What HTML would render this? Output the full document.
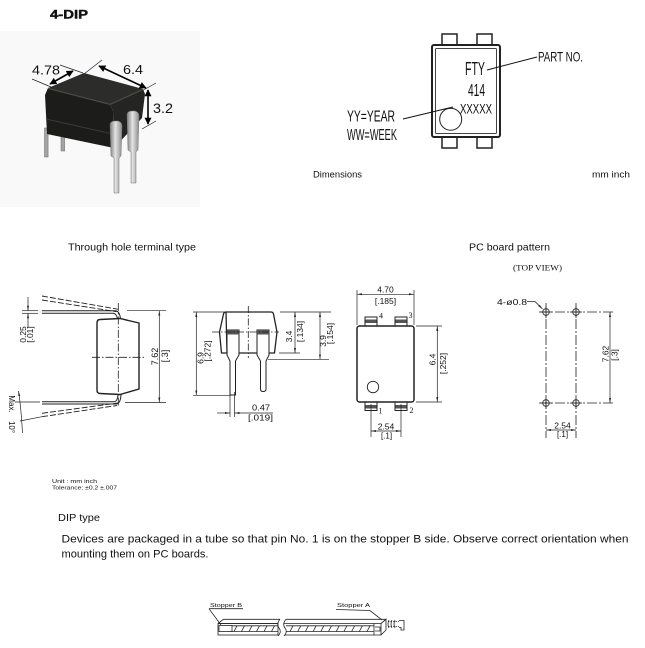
<!DOCTYPE html>
<html><head><meta charset="utf-8">
<style>
html,body{margin:0;padding:0;background:#fff;}
svg{display:block;}
text{font-family:"Liberation Sans",Arial,sans-serif;fill:#111;}
.ser{font-family:"Liberation Serif","Times New Roman",serif;}
</style></head><body>
<svg width="645" height="648" viewBox="0 0 645 648" xmlns="http://www.w3.org/2000/svg">
<defs>
<marker id="big" viewBox="0 0 10 10" refX="9" refY="5" markerUnits="userSpaceOnUse" markerWidth="8" markerHeight="7" orient="auto-start-reverse"><path d="M0,0 L10,5 L0,10 z" fill="#000"/></marker>
<marker id="sm" viewBox="0 0 10 4" refX="10" refY="2" markerUnits="userSpaceOnUse" markerWidth="5" markerHeight="2.2" orient="auto-start-reverse"><path d="M0,0 L10,2 L0,4 z" fill="#222"/></marker>
<linearGradient id="pin" x1="0" y1="0" x2="1" y2="0">
<stop offset="0" stop-color="#7e7e7e"/><stop offset="0.45" stop-color="#e4e4e4"/><stop offset="1" stop-color="#8c8c8c"/>
</linearGradient>
</defs>

<!-- Title -->
<text x="50" y="18.5" font-size="12" font-weight="bold" textLength="38" lengthAdjust="spacingAndGlyphs" stroke="#111" stroke-width="0.4">4-DIP</text>

<!-- Photo area -->
<rect x="0" y="31" width="200" height="176" fill="#f9f9f9"/>
<!-- back pins -->
<rect x="44.5" y="128" width="3.6" height="29" fill="#a4a4a4" stroke="#6a6a6a" stroke-width="0.5"/>
<rect x="61" y="134" width="3.6" height="17" fill="#a4a4a4" stroke="#6a6a6a" stroke-width="0.5"/>
<!-- body -->
<path d="M45,95 L48,88 L110,104 L113,111 L114,148 L47,134 Z" fill="#1c1c1a"/>
<path d="M48,88 L84,73 L143,89 L110,104 Z" fill="#2c2c2a"/>
<path d="M110,104 L143,89 L145,94 L142,118 L114,148 L113,111 Z" fill="#242422"/>
<line x1="48" y1="88.5" x2="110" y2="104.5" stroke="#4a4a47" stroke-width="1"/>
<line x1="110" y1="104.5" x2="143" y2="89.5" stroke="#4a4a47" stroke-width="1"/>
<line x1="46" y1="119" x2="113" y2="134" stroke="#3a3a37" stroke-width="1"/>
<!-- front pins -->
<path d="M110,125 Q110,121 115,121 L118,121 Q122,122 122,126 L121,156 L119,158 L119,193 L114,193 L114,158 L111,156 Z" fill="url(#pin)" stroke="#777" stroke-width="0.5"/>
<path d="M127,115 Q127,111 132,111 L135,111 Q139,112 139,116 L138,150 L136,152 L136,183 L131,183 L131,152 L128,150 Z" fill="url(#pin)" stroke="#777" stroke-width="0.5"/>
<!-- photo dims -->
<g stroke="#222" stroke-width="0.7">
<line x1="32" y1="79" x2="51" y2="87"/>
<line x1="60" y1="65" x2="83" y2="73"/>
<line x1="84" y1="74" x2="102" y2="60"/>
<line x1="140" y1="92" x2="156" y2="83"/>
<line x1="142" y1="129" x2="156" y2="121"/>
</g>
<g stroke="#000" stroke-width="1.6">
<line x1="50" y1="84" x2="73" y2="71" marker-start="url(#big)" marker-end="url(#big)"/>
<line x1="99" y1="66" x2="146" y2="88" marker-start="url(#big)" marker-end="url(#big)"/>
<line x1="148" y1="90" x2="148" y2="124" marker-start="url(#big)" marker-end="url(#big)"/>
</g>
<text x="32" y="74.5" font-size="13" textLength="28" lengthAdjust="spacingAndGlyphs">4.78</text>
<text x="123" y="74" font-size="13" textLength="20" lengthAdjust="spacingAndGlyphs">6.4</text>
<text x="153" y="113" font-size="13.5" textLength="20" lengthAdjust="spacingAndGlyphs">3.2</text>

<!-- Marking diagram -->
<g stroke="#222" fill="#fff">
<rect x="442" y="34" width="15" height="11" stroke-width="1.5"/>
<rect x="477" y="34" width="15" height="11" stroke-width="1.5"/>
<rect x="442" y="137" width="15" height="11" stroke-width="1.5"/>
<rect x="477" y="137" width="15" height="11" stroke-width="1.5"/>
<rect x="432" y="45" width="68" height="92" rx="2" stroke-width="2"/>
<rect x="435.5" y="48.5" width="61" height="85" rx="1" stroke-width="1" stroke="#444"/>
<circle cx="450.7" cy="119.3" r="11" stroke-width="1"/>
</g>
<text x="465" y="75" font-size="18" textLength="20" lengthAdjust="spacingAndGlyphs">FTY</text>
<text x="468" y="96" font-size="17.5" textLength="17" lengthAdjust="spacingAndGlyphs">414</text>
<text x="460" y="113.3" font-size="14" textLength="32" lengthAdjust="spacingAndGlyphs">XXXXX</text>
<text x="538" y="61.7" font-size="14" textLength="45" lengthAdjust="spacingAndGlyphs">PART NO.</text>
<text x="347" y="121.7" font-size="16" textLength="48" lengthAdjust="spacingAndGlyphs">YY=YEAR</text>
<text x="347" y="140" font-size="16" textLength="50" lengthAdjust="spacingAndGlyphs">WW=WEEK</text>
<line x1="487" y1="70" x2="537" y2="57" stroke="#111" stroke-width="1"/>
<line x1="403" y1="119" x2="453" y2="107" stroke="#111" stroke-width="1"/>
<text x="313" y="177.3" font-size="9" textLength="49" lengthAdjust="spacingAndGlyphs">Dimensions</text>
<text x="592" y="177.3" font-size="9" textLength="38" lengthAdjust="spacingAndGlyphs">mm inch</text>

<!-- Section titles -->
<text x="68" y="250.5" font-size="10" textLength="128" lengthAdjust="spacingAndGlyphs">Through hole terminal type</text>
<text x="469" y="250.5" font-size="10" textLength="81" lengthAdjust="spacingAndGlyphs">PC board pattern</text>
<text class="ser" x="513" y="270.5" font-size="8.5" textLength="49" lengthAdjust="spacingAndGlyphs">(TOP VIEW)</text>

<!-- Through hole side view -->
<g stroke="#222" fill="none" stroke-width="1">
<path d="M100,319.5 L120,318.5 L139,323 L139,389 L120,394.5 L100,393.5 Q97,393.5 97,390 L97,323 Q97,319.5 100,319.5 Z" stroke-width="1.4"/>
<path d="M42,310.7 L115,310.7 Q119.5,310.7 120.5,318.5"/>
<path d="M42,313.3 L113,313.3 Q116.5,313.3 117.5,318.8"/>
<path d="M42,404 L116,404 Q120.5,404 121,394.5"/>
<path d="M42,401.7 L114,401.7 Q117.5,401.7 118,394.5"/>
<g stroke-dasharray="6,2" stroke-width="0.9">
<path d="M42,296 L118.3,309.3"/>
<path d="M42,300 L116.7,311.7"/>
<path d="M42,413.3 L118,403"/>
<path d="M42,416.7 L117,405.5"/>
</g>
<g stroke-dasharray="8,2,1.5,2" stroke-width="0.8">
<line x1="118.3" y1="303" x2="118.3" y2="406"/>
<line x1="92" y1="357.3" x2="146" y2="357.3"/>
</g>
<g stroke-width="0.7">
<line x1="127" y1="310.7" x2="166" y2="310.7"/>
<line x1="125" y1="402.5" x2="166" y2="402.5"/>
<line x1="159.3" y1="310.7" x2="159.3" y2="402.5" marker-start="url(#sm)" marker-end="url(#sm)"/>
<line x1="22" y1="310.7" x2="38" y2="310.7"/>
<line x1="22" y1="313.3" x2="38" y2="313.3"/>
<line x1="28" y1="297" x2="28" y2="310.7" marker-end="url(#sm)"/>
<line x1="28" y1="327" x2="28" y2="313.3" marker-end="url(#sm)"/>
<line x1="15" y1="402" x2="40" y2="402"/>
<line x1="20" y1="421" x2="42" y2="416.7"/>
<path d="M18.5,391 Q21,407 22.5,433" marker-start="url(#sm)"/>
</g>
</g>
<text font-size="9" transform="translate(158,356.5) rotate(-90)" text-anchor="middle">7.62</text>
<text font-size="9" transform="translate(168,356) rotate(-90)" text-anchor="middle">[.3]</text>
<text font-size="8.5" transform="translate(26,334.5) rotate(-90)" text-anchor="middle">0.25</text>
<text font-size="8.5" transform="translate(33,334.5) rotate(-90)" text-anchor="middle">[.01]</text>
<text font-size="8" transform="translate(9,404) rotate(90)" text-anchor="middle">Max.</text>
<text font-size="8" transform="translate(9,427) rotate(90)" text-anchor="middle">10°</text>

<!-- Through hole front view -->
<g stroke="#222" fill="none" stroke-width="1">
<path d="M226,312 L271,312 Q273,312 273.5,314 L277,332 L274.5,353 L269,353 M239,353 L257,353 M227,353 L221.5,353 L219.5,332 L223.5,314 Q224,312 226,312 Z" stroke-width="1.3"/>
<path d="M227,330 L239,330 L239,355 L235.5,361 L235.5,395 L230,395 L230,361 L227,355 Z"/>
<path d="M257,330 L269,330 L269,355 L266,361 L266,389 Q266,391.5 263,391.5 Q260.5,391.5 260.5,389 L260.5,361 L257,355 Z"/>
<rect x="227" y="330" width="12" height="4.5" fill="#555" stroke="none"/>
<rect x="257" y="330" width="12" height="4.5" fill="#555" stroke="none"/>
<g stroke-dasharray="7,2,1.5,2" stroke-width="0.8">
<line x1="248.3" y1="306" x2="248.3" y2="358"/>
<line x1="212" y1="332" x2="279" y2="332"/>
</g>
<g stroke-width="0.7">
<line x1="193" y1="312" x2="225" y2="312"/>
<line x1="193" y1="395.3" x2="231" y2="395.3"/>
<line x1="196.3" y1="312" x2="196.3" y2="395.3" marker-start="url(#sm)" marker-end="url(#sm)"/>
<line x1="280" y1="312" x2="331" y2="312"/>
<line x1="279" y1="353" x2="300" y2="353"/>
<line x1="268" y1="359.3" x2="329" y2="359.3"/>
<line x1="295" y1="312" x2="295" y2="353" marker-start="url(#sm)" marker-end="url(#sm)"/>
<line x1="320" y1="312" x2="320" y2="359.3" marker-start="url(#sm)" marker-end="url(#sm)"/>
<line x1="230" y1="392" x2="230" y2="417"/>
<line x1="234.5" y1="392" x2="234.5" y2="417"/>
<line x1="217" y1="413" x2="230" y2="413" marker-end="url(#sm)"/>
<line x1="273" y1="413" x2="234.5" y2="413" marker-end="url(#sm)"/>
</g>
</g>
<text font-size="8.5" transform="translate(203.5,358) rotate(-90)" text-anchor="middle">6.9</text>
<text font-size="8.5" transform="translate(210.5,351) rotate(-90)" text-anchor="middle">[.272]</text>
<text font-size="8.5" transform="translate(292,336.5) rotate(-90)" text-anchor="middle">3.4</text>
<text font-size="8.5" transform="translate(303,331.5) rotate(-90)" text-anchor="middle">[.134]</text>
<text font-size="8.5" transform="translate(326,341) rotate(-90)" text-anchor="middle">3.9</text>
<text font-size="8.5" transform="translate(333,333.5) rotate(-90)" text-anchor="middle">[.154]</text>
<text x="252" y="410.5" font-size="8.5" textLength="18" lengthAdjust="spacingAndGlyphs">0.47</text>
<text x="248" y="420.5" font-size="8.5" textLength="25" lengthAdjust="spacingAndGlyphs">[.019]</text>

<!-- Top view package -->
<g stroke="#222" fill="#fff" stroke-width="1">
<rect x="365" y="317" width="12" height="9"/>
<rect x="395" y="317" width="12" height="9"/>
<rect x="365" y="402" width="12" height="8.5"/>
<rect x="395" y="402" width="12" height="8.5"/>
<rect x="357" y="326" width="57" height="76" rx="2.5" stroke-width="1.5"/>
<circle cx="373" cy="387" r="5.7" stroke-width="0.9"/>
</g>
<g fill="#555">
<rect x="365.5" y="319.5" width="11" height="3.5"/>
<rect x="395.5" y="319.5" width="11" height="3.5"/>
<rect x="365.5" y="405" width="11" height="3.5"/>
<rect x="395.5" y="405" width="11" height="3.5"/>
</g>
<text class="ser" x="379" y="318.5" font-size="8">4</text>
<text class="ser" x="408.5" y="318" font-size="8">3</text>
<text class="ser" x="378.5" y="413.5" font-size="8">1</text>
<text class="ser" x="409.5" y="413" font-size="8">2</text>
<g stroke="#222" fill="none" stroke-width="0.7">
<line x1="357" y1="290" x2="357" y2="325"/>
<line x1="414" y1="290" x2="414" y2="325"/>
<line x1="357" y1="294.3" x2="414" y2="294.3" marker-start="url(#sm)" marker-end="url(#sm)"/>
<line x1="416" y1="326" x2="442" y2="326"/>
<line x1="416" y1="402" x2="442" y2="402"/>
<line x1="437.3" y1="326" x2="437.3" y2="402" marker-start="url(#sm)" marker-end="url(#sm)"/>
<line x1="371" y1="404" x2="371" y2="437"/>
<line x1="401" y1="404" x2="401" y2="437"/>
<line x1="371" y1="431" x2="401" y2="431" marker-start="url(#sm)" marker-end="url(#sm)"/>
</g>
<text x="385.5" y="292.5" font-size="8.5" text-anchor="middle">4.70</text>
<text x="385.5" y="304" font-size="8.5" text-anchor="middle">[.185]</text>
<text font-size="8.5" transform="translate(435.5,359.5) rotate(-90)" text-anchor="middle">6.4</text>
<text font-size="8.5" transform="translate(446,363.5) rotate(-90)" text-anchor="middle">[.252]</text>
<text x="386" y="429.5" font-size="8.5" text-anchor="middle">2.54</text>
<text x="386.5" y="438.5" font-size="8" text-anchor="middle">[.1]</text>

<!-- PC board pattern -->
<g stroke="#222" fill="none" stroke-width="0.8">
<g stroke-dasharray="10,2,2,2">
<line x1="546" y1="303" x2="546" y2="438"/>
<line x1="576" y1="303" x2="576" y2="438"/>
<line x1="539" y1="312" x2="615" y2="312"/>
<line x1="539" y1="403" x2="615" y2="403"/>
</g>
<circle cx="546" cy="312" r="3.3"/>
<circle cx="576" cy="312" r="3.3"/>
<circle cx="546" cy="403" r="3.3"/>
<circle cx="576" cy="403" r="3.3"/>
<line x1="546" y1="306" x2="546" y2="318"/><line x1="540" y1="312" x2="552" y2="312"/>
<line x1="576" y1="306" x2="576" y2="318"/><line x1="570" y1="312" x2="582" y2="312"/>
<line x1="546" y1="397" x2="546" y2="409"/><line x1="540" y1="403" x2="552" y2="403"/>
<line x1="576" y1="397" x2="576" y2="409"/><line x1="570" y1="403" x2="582" y2="403"/>
<line x1="610" y1="312" x2="610" y2="403" stroke-width="0.7" marker-start="url(#sm)" marker-end="url(#sm)"/>
<line x1="546" y1="430" x2="576" y2="430" stroke-width="0.7" marker-start="url(#sm)" marker-end="url(#sm)"/>
<path d="M527,301.5 L535,301.5 L542.5,309" stroke-width="0.8" marker-end="url(#sm)"/>
</g>
<text x="497" y="305" font-size="8" textLength="30" lengthAdjust="spacingAndGlyphs">4-ø0.8</text>
<text font-size="8.5" transform="translate(608.5,354) rotate(-90)" text-anchor="middle">7.62</text>
<text font-size="8.5" transform="translate(617.5,355) rotate(-90)" text-anchor="middle">[.3]</text>
<text x="562.5" y="428.5" font-size="8.5" text-anchor="middle">2.54</text>
<text x="562.5" y="437" font-size="8" text-anchor="middle">[.1]</text>

<!-- Notes -->
<text x="52" y="483" font-size="5.5" textLength="45" lengthAdjust="spacingAndGlyphs">Unit : mm  inch</text>
<text x="52" y="489.3" font-size="5.5" textLength="65" lengthAdjust="spacingAndGlyphs">Tolerance: ±0.2  ±.007</text>
<text x="58" y="521" font-size="10" textLength="42" lengthAdjust="spacingAndGlyphs">DIP type</text>
<text x="61.5" y="542.3" font-size="11" textLength="567" lengthAdjust="spacingAndGlyphs">Devices are packaged in a tube so that pin No. 1 is on the stopper B side. Observe correct orientation when</text>
<text x="61.5" y="557.3" font-size="11" textLength="147" lengthAdjust="spacingAndGlyphs">mounting them on PC boards.</text>

<!-- Tube -->
<text x="210" y="607" font-size="5.8" textLength="32" lengthAdjust="spacingAndGlyphs">Stopper B</text>
<text x="337" y="607" font-size="5.8" textLength="33" lengthAdjust="spacingAndGlyphs">Stopper A</text>
<g stroke="#222" fill="none" stroke-width="0.8">
<path d="M209,608.7 L243,608.7"/>
<path d="M209,608.7 L221,625"/>
<path d="M336,609.5 L370,610.5 L382,620"/>
<path d="M218,623.5 L223.5,619.3 L280,619.3"/>
<path d="M218,623.5 L278,623.5"/>
<rect x="218" y="623.5" width="60" height="11.5"/>
<line x1="230" y1="625.8" x2="278" y2="625.8"/>
<line x1="230" y1="631.5" x2="278" y2="631.5"/>
<rect x="219" y="625.5" width="13" height="6" fill="#fff"/>
<path d="M234,631.5 L237,625.8 M241.5,631.5 L244.5,625.8 M249,631.5 L252,625.8 M256.5,631.5 L259.5,625.8 M264,631.5 L267,625.8 M271.5,631.5 L274.5,625.8"/>
<path d="M280,619.3 Q276,624 279,628 Q282,632 278,636"/>
<path d="M286,619.3 Q282,624 285,628 Q288,632 284,636"/>
<path d="M286,619.3 L386,619.3 L381,623.5 L284,623.5"/>
<path d="M284.5,635 L381,635 L381,623.5"/>
<line x1="286" y1="625.8" x2="374" y2="625.8"/>
<line x1="286" y1="631.5" x2="374" y2="631.5"/>
<path d="M290,631.5 L293,625.8 M297.7,631.5 L300.7,625.8 M305.4,631.5 L308.4,625.8 M313.1,631.5 L316.1,625.8 M320.8,631.5 L323.8,625.8 M328.5,631.5 L331.5,625.8 M336.2,631.5 L339.2,625.8 M343.9,631.5 L346.9,625.8 M351.6,631.5 L354.6,625.8 M359.3,631.5 L362.3,625.8 M367,631.5 L370,625.8"/>
<path d="M374,623.5 L374,635 M381,623.5 L386,619.3 L386,630 L381,635"/>
<path d="M375,627 L380,627 L380,631 L375,631"/>
<path d="M388,621.5 L399,621.5 M388,626.5 L399,626.5" stroke-dasharray="1.5,1"/>
<path d="M389,620 Q387,624 389,628 M392,620 Q390,624 392,628 M395,620 Q393,624 395,628"/>
<path d="M399,620.5 L404,620.5 L404,630 L401,630 L401,627.5 L399,627.5"/>
</g>
</svg>
</body></html>
